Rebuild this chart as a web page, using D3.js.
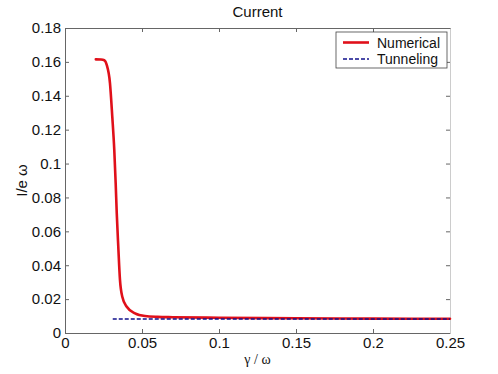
<!DOCTYPE html>
<html>
<head>
<meta charset="utf-8">
<script src="https://cdn.jsdelivr.net/npm/d3@7"></script>
<style>
  body { margin: 0; background: #fff; }
  text { font-family: "Liberation Sans", Arial, sans-serif; fill: #111; }
</style>
</head>
<body>
<div id="container"></div>
<script>
// data
const gamma = [0.020, 0.0234, 0.0255, 0.0271, 0.0292, 0.0307, 0.0320, 0.0329, 0.0336, 0.0346, 0.0357, 0.0372, 0.0401, 0.0455, 0.0519, 0.06, 0.07, 0.1, 0.15, 0.2, 0.25];
const numerical = [0.1615, 0.1614, 0.161, 0.1582, 0.1475, 0.1277, 0.108, 0.0885, 0.0708, 0.0509, 0.0313, 0.0214, 0.0155, 0.0116, 0.0100, 0.0095, 0.0093, 0.0090, 0.0087, 0.0085, 0.0084];
const tunnelGamma = [0.031, 0.25];
const tunneling = [0.0083, 0.0083];
const xTicks = [0, 0.05, 0.1, 0.15, 0.2, 0.25];
const yTicks = [0, 0.02, 0.04, 0.06, 0.08, 0.1, 0.12, 0.14, 0.16, 0.18];

const width = 498, height = 374;
const margin = { top: 28, right: 48, bottom: 41, left: 65 };

const svg = d3.select("#container")
  .append("svg")
  .attr("width", width)
  .attr("height", height);

const x = d3.scaleLinear().domain([0, 0.25]).range([margin.left, width - margin.right]);
const y = d3.scaleLinear().domain([0, 0.18]).range([height - margin.bottom, margin.top]);

const axisColor = "#666";
const tickLen = 4;
const fs = 15;

// bottom axis
const bottomAxis = svg.append("g")
  .attr("transform", `translate(0,${y(0)})`)
  .call(d3.axisBottom(x).tickValues(xTicks).tickFormat(d => d).tickSizeInner(-tickLen).tickSizeOuter(0).tickPadding(4));
// left axis
const leftAxis = svg.append("g")
  .attr("transform", `translate(${x(0)},0)`)
  .call(d3.axisLeft(y).tickValues(yTicks).tickFormat(d => d).tickSizeInner(-tickLen).tickSizeOuter(0).tickPadding(4));
// top & right ticks
const topAxis = svg.append("g")
  .attr("transform", `translate(0,${y(0.18)})`)
  .call(d3.axisTop(x).tickValues(xTicks).tickFormat("").tickSizeInner(-tickLen).tickSizeOuter(0));
const rightAxis = svg.append("g")
  .attr("transform", `translate(${x(0.25)},0)`)
  .call(d3.axisRight(y).tickValues(yTicks).tickFormat("").tickSizeInner(-tickLen).tickSizeOuter(0));

[bottomAxis, leftAxis, topAxis, rightAxis].forEach(g => {
  g.attr("font-size", fs).attr("font-family", "\"Liberation Sans\", Arial, sans-serif");
  g.selectAll("path, line").attr("stroke", axisColor);
  g.selectAll("text").attr("fill", "#111");
});
rightAxis.select("path").attr("stroke", "#ccc");

// lines
const line = d3.line().x(d => x(d[0])).y(d => y(d[1]));

svg.append("path")
  .datum(gamma.map((g, i) => [g, numerical[i]]))
  .attr("fill", "none")
  .attr("stroke", "#e0101a")
  .attr("stroke-width", 2.6)
  .attr("stroke-linecap", "round")
  .attr("d", d3.line().x(d => x(d[0])).y(d => y(d[1])).curve(d3.curveMonotoneX));

svg.append("path")
  .datum(tunnelGamma.map((g, i) => [g, tunneling[i]]))
  .attr("fill", "none")
  .attr("stroke", "#10108c")
  .attr("stroke-width", 1.4)
  .attr("stroke-dasharray", "4,2")
  .attr("d", line);

// title and labels
svg.append("text")
  .attr("x", (x(0) + x(0.25)) / 2)
  .attr("y", 17)
  .attr("text-anchor", "middle")
  .attr("font-size", fs)
  .text("Current");

svg.append("text")
  .attr("x", (x(0) + x(0.25)) / 2)
  .attr("y", 364)
  .attr("text-anchor", "middle")
  .attr("font-size", 14)
  .style("font-family", "\"Liberation Serif\", \"DejaVu Serif\", serif")
  .text("γ / ω");

svg.append("text")
  .attr("transform", `translate(27,${(y(0) + y(0.18)) / 2}) rotate(-90)`)
  .attr("text-anchor", "middle")
  .attr("font-size", fs)
  .text("I/e ω");

// legend
const legend = svg.append("g").attr("transform", "translate(336,32)");
legend.append("rect")
  .attr("width", 111).attr("height", 36)
  .attr("fill", "#fff").attr("stroke", "#444").attr("stroke-width", 0.8);
const items = [
  { name: "Numerical", color: "#e0101a", w: 2.6, dash: null },
  { name: "Tunneling", color: "#10108c", w: 1.4, dash: "4,2" }
];
items.forEach((it, i) => {
  const yy = 10.5 + i * 16.5;
  legend.append("line")
    .attr("x1", 7).attr("x2", 33).attr("y1", yy).attr("y2", yy)
    .attr("stroke", it.color).attr("stroke-width", it.w)
    .attr("stroke-dasharray", it.dash);
  legend.append("text")
    .attr("x", 41).attr("y", yy + 5)
    .attr("font-size", 14)
    .text(it.name);
});
</script>
</body>
</html>
